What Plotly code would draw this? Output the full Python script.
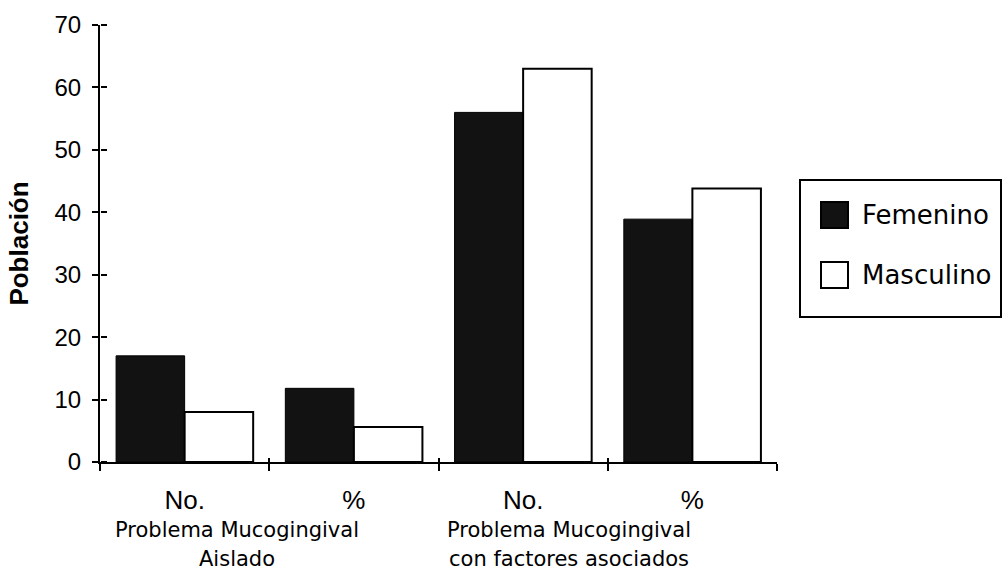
import plotly.graph_objects as go

categories = ["No. (A)", "% (A)", "No. (B)", "% (B)"]
tick_labels = ["No.", "%", "No.", "%"]
femenino = [17, 11.8, 56, 38.9]
masculino = [8, 5.6, 63, 43.8]
group_line1 = ["Problema Mucogingival", "Problema Mucogingival"]
group_line2 = ["Aislado", "con factores asociados"]
group_pos = [0.31, 2.27]
series_names = ["Femenino", "Masculino"]

W, H = 1003, 572
ML, MR, MT, MB = 100, 226, 25, 110
PH = H - MT - MB
PW = W - ML - MR

fig = go.Figure()
fig.add_trace(go.Bar(x=categories, y=femenino, name=series_names[0],
                     marker=dict(color="#121212", line=dict(color="#000", width=1))))
fig.add_trace(go.Bar(x=categories, y=masculino, name=series_names[1],
                     marker=dict(color="#ffffff", line=dict(color="#000", width=2))))
# invisible helper trace so the overlaid axes (inner half of crossing ticks) are drawn
fig.add_trace(go.Scatter(x=categories, y=[0] * 4, xaxis="x2", yaxis="y2",
                         mode="markers", marker=dict(opacity=0, size=1),
                         showlegend=False, hoverinfo="skip"))

fig.update_layout(
    width=W, height=H,
    margin=dict(l=ML, r=MR, t=MT, b=MB),
    paper_bgcolor="white", plot_bgcolor="white",
    barmode="group", bargap=0.19, bargroupgap=0,
    showlegend=False,
    xaxis=dict(type="category", tickmode="array", tickvals=categories, ticktext=tick_labels,
               tickson="boundaries", ticks="outside", ticklen=7, tickwidth=2, tickcolor="#000",
               showline=True, linecolor="#000", linewidth=2, showgrid=False,
               range=[-0.5, 3.5],
               tickfont=dict(family="Liberation Sans, Arial", size=26, color="#000"),
               ticklabelstandoff=14),
    xaxis2=dict(type="category", overlaying="x", anchor="y2", side="bottom",
                categoryorder="array", categoryarray=categories, range=[-0.5, 3.5],
                tickson="boundaries", ticks="inside", ticklen=4, tickwidth=2, tickcolor="#000",
                showticklabels=False, showgrid=False, showline=False, zeroline=False),
    yaxis=dict(range=[0, 70], tickmode="linear", tick0=0, dtick=10,
               ticks="outside", ticklen=6, tickwidth=2, tickcolor="#000",
               showline=True, linecolor="#000", linewidth=2, showgrid=False, zeroline=False,
               tickfont=dict(family="Liberation Sans, Arial", size=24, color="#000"),
               ticklabelstandoff=6,
               title=dict(text="<b>Población</b>", standoff=18,
                          font=dict(family="Liberation Sans, Arial", size=26, color="#000"))),
    yaxis2=dict(range=[0, 70], overlaying="y", anchor="free", position=0, side="right",
                tickmode="linear", tick0=0, dtick=10, ticks="outside", ticklen=6, tickwidth=2,
                tickcolor="#000", showticklabels=False, showgrid=False, zeroline=False,
                showline=False),
)

# group labels under the axis
for i in range(2):
    fig.add_annotation(x=group_pos[i], xref="x", y=-(530 - (H - MB)) / PH, yref="paper",
                       text=group_line1[i], showarrow=False, yanchor="middle",
                       font=dict(family="DejaVu Sans", size=21, color="#000"))
    fig.add_annotation(x=group_pos[i], xref="x", y=-(559 - (H - MB)) / PH, yref="paper",
                       text=group_line2[i], showarrow=False, yanchor="middle",
                       font=dict(family="DejaVu Sans", size=21, color="#000"))

# legend box drawn by hand (paper coordinates)
def px_x(x):
    return (x - ML) / PW

def px_y(y):
    return (H - MB - y) / PH

fig.add_shape(type="rect", xref="paper", yref="paper",
              x0=px_x(800), x1=px_x(1001), y0=px_y(317), y1=px_y(180),
              line=dict(color="#000", width=2), fillcolor="white")
legend_rows = [215, 275]
legend_fill = ["#121212", "#ffffff"]
for i in range(2):
    fig.add_shape(type="rect", xref="paper", yref="paper",
                  x0=px_x(821), x1=px_x(848), y0=px_y(legend_rows[i] + 13), y1=px_y(legend_rows[i] - 13),
                  line=dict(color="#000", width=2), fillcolor=legend_fill[i])
    fig.add_annotation(x=px_x(860), xref="paper", y=px_y(legend_rows[i]), yref="paper",
                       text=series_names[i], showarrow=False, xanchor="left", yanchor="middle",
                       font=dict(family="DejaVu Sans", size=26, color="#000"))

fig.write_html("out.html")
